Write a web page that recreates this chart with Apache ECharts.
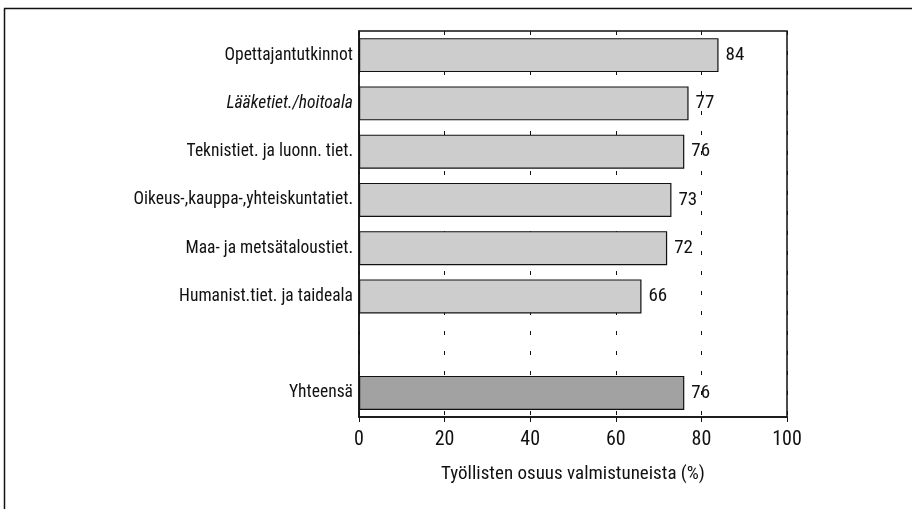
<!DOCTYPE html>
<html>
<head>
<meta charset="utf-8">
<script src="https://cdn.jsdelivr.net/npm/echarts@6/dist/echarts.min.js"></script>
<style>
  html, body { margin: 0; padding: 0; background: #fff; }
  #chart { width: 912px; height: 509px; }
</style>
</head>
<body>
<div id="chart"></div>
<script>
// Työllisten osuus valmistuneista, koulutusaloittain
var categories = [
  'Opettajantutkinnot',
  'Lääketiet./hoitoala',
  'Teknistiet. ja luonn. tiet.',
  'Oikeus-,kauppa-,yhteiskuntatiet.',
  'Maa- ja metsätaloustiet.',
  'Humanist.tiet. ja taideala',
  '',
  'Yhteensä'
];
var values = [84, 77, 76, 73, 72, 66, null, 76];
var xTicks = [0, 20, 40, 60, 80, 100];

(function() {
  var font = '"Liberation Sans Narrow", "Roboto Condensed", "Liberation Sans", sans-serif';
  var ink = '#111';

  var chart = echarts.init(document.getElementById('chart'), null, { renderer: 'canvas' });

  var data = values.map(function(v, i) {
    var isTotal = categories[i] === 'Yhteensä';
    return {
      value: v,
      itemStyle: { color: isTotal ? '#a2a2a2' : '#cdcdcd' }
    };
  });

  chart.setOption({
    animation: false,
    textStyle: { fontFamily: font },
    graphic: [
      // outer frame (left and top edges visible in scan)
      { type: 'line', shape: { x1: 4.5, y1: 8.5, x2: 4.5, y2: 509 }, style: { stroke: ink, lineWidth: 1.5 } },
      { type: 'line', shape: { x1: 4, y1: 8.5, x2: 912, y2: 8.5 }, style: { stroke: ink, lineWidth: 1.5 } }
    ],
    grid: {
      left: 359, top: 31, width: 428, height: 386, containLabel: false,
      show: true, borderColor: ink, borderWidth: 1.5
    },
    xAxis: {
      type: 'value',
      min: 0,
      max: 100,
      interval: 20,
      name: 'Työllisten osuus valmistuneista (%)',
      nameLocation: 'middle',
      nameGap: 48,
      nameTextStyle: { color: ink, fontSize: 19, fontFamily: font },
      axisLine: { show: true, lineStyle: { color: ink, width: 1.5 } },
      axisTick: { show: true, length: 5, lineStyle: { color: ink } },
      axisLabel: {
        color: ink, fontSize: 20, margin: 13, fontFamily: font,
        formatter: function(v) { return xTicks.indexOf(v) >= 0 ? String(v) : ''; }
      },
      splitLine: { show: true, lineStyle: { color: ink, type: [4, 16], width: 1 } }
    },
    yAxis: {
      type: 'category',
      data: categories,
      inverse: true,
      axisLine: { show: true, lineStyle: { color: ink, width: 1.5 } },
      axisTick: { show: false },
      axisLabel: {
        color: ink, fontSize: 17.5, margin: 6, fontFamily: font,
        formatter: function(v) {
          return v === 'Lääketiet./hoitoala' ? '{it|' + v + '}' : v;
        },
        rich: { it: { fontStyle: 'italic', fontSize: 17.5, color: ink, fontFamily: font } }
      }
    },
    series: [
      {
        type: 'bar',
        data: data,
        barWidth: 34,
        itemStyle: { borderColor: ink, borderWidth: 1.2 },
        label: {
          show: true,
          position: 'right',
          distance: 7,
          color: ink,
          fontSize: 19,
          fontFamily: font
        }
      }
    ]
  });
  window.addEventListener('resize', function() { chart.resize(); });
})();
</script>
</body>
</html>
